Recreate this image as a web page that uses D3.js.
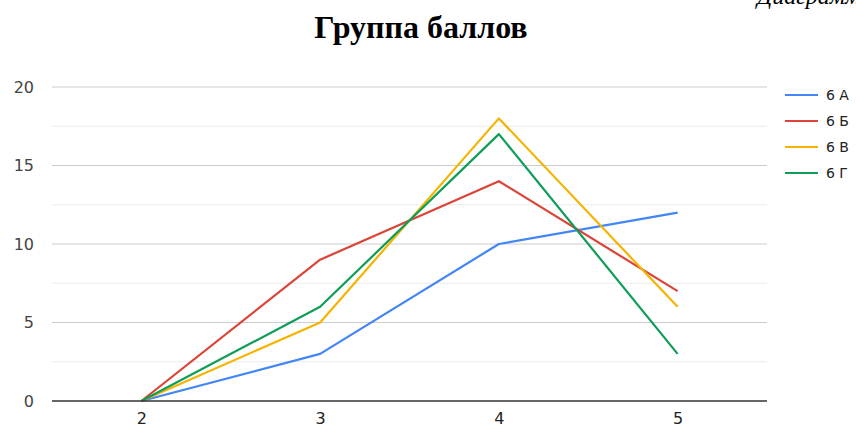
<!DOCTYPE html>
<html>
<head>
<meta charset="utf-8">
<script src="https://cdn.jsdelivr.net/npm/d3@7"></script>
<style>
  html, body { margin: 0; padding: 0; background: #fff; }
  svg { display: block; }
</style>
</head>
<body>
<svg id="chart" width="856" height="427"></svg>
<script>
// Score groups on the x axis, counts per class on the y axis
const categories = ["2", "3", "4", "5"];
const seriesNames = ["6 А", "6 Б", "6 В", "6 Г"];
const series6A = [0, 3, 10, 12];
const series6B = [0, 9, 14, 7];
const series6V = [0, 5, 18, 6];
const series6G = [0, 6, 17, 3];
const yTicks = [0, 5, 10, 15, 20];
const yMinor = [2.5, 7.5, 12.5, 17.5];
const colors = ["#4285F4", "#DB4437", "#F4B400", "#0F9D58"];

const seriesValues = [series6A, series6B, series6V, series6G];

const svg = d3.select("#chart");
const plotLeft = 52, plotRight = 767, plotTop = 87, plotBottom = 401;
const labelFont = "DejaVu Sans, Verdana, sans-serif";

const x = d3.scalePoint().domain(categories).range([plotLeft, plotRight]).padding(0.5);
const y = d3.scaleLinear().domain([0, 20]).range([plotBottom, plotTop]);

// Caption line above the chart, running off the top edge
svg.append("text")
  .attr("x", 757).attr("y", 4)
  .attr("font-family", "Liberation Serif, Times New Roman, serif")
  .attr("font-style", "italic")
  .attr("font-size", 24)
  .attr("fill", "#000")
  .text("Диаграмма 1");

// Title
svg.append("text")
  .attr("x", 421).attr("y", 38)
  .attr("text-anchor", "middle")
  .attr("font-family", "Liberation Serif, Times New Roman, serif")
  .attr("font-weight", "bold")
  .attr("font-size", 32)
  .attr("fill", "#000")
  .text("Группа баллов");

// Minor gridlines
svg.append("g").selectAll("line").data(yMinor).join("line")
  .attr("x1", plotLeft).attr("x2", plotRight)
  .attr("y1", d => y(d)).attr("y2", d => y(d))
  .attr("stroke", "#ebebeb").attr("stroke-width", 1);

// Major gridlines
svg.append("g").selectAll("line").data(yTicks.filter(d => d !== 0)).join("line")
  .attr("x1", plotLeft).attr("x2", plotRight)
  .attr("y1", d => y(d)).attr("y2", d => y(d))
  .attr("stroke", "#cccccc").attr("stroke-width", 1);

// Y axis labels
const yAxis = d3.axisLeft(y).tickValues(yTicks).tickSize(0).tickPadding(18);
const gy = svg.append("g").attr("transform", `translate(${plotLeft},0)`).call(yAxis);
gy.select(".domain").remove();
gy.selectAll("text")
  .attr("font-family", labelFont)
  .attr("font-size", 16)
  .attr("fill", "#444");

// X axis labels
const xAxis = d3.axisBottom(x).tickSize(0).tickPadding(12);
const gx = svg.append("g").attr("transform", `translate(0,${plotBottom})`).call(xAxis);
gx.select(".domain").remove();
gx.selectAll("text")
  .attr("font-family", labelFont)
  .attr("font-size", 16)
  .attr("fill", "#222");

// Lines
const line = d3.line().x((d, i) => x(categories[i])).y(d => y(d));
svg.append("g").selectAll("path").data(seriesValues).join("path")
  .attr("d", d => line(d))
  .attr("fill", "none")
  .attr("stroke", (d, i) => colors[i])
  .attr("stroke-width", 2.2)
  .attr("stroke-linejoin", "round");

// Baseline
svg.append("line")
  .attr("x1", plotLeft).attr("x2", plotRight)
  .attr("y1", y(0)).attr("y2", y(0))
  .attr("stroke", "#333").attr("stroke-width", 1.3);

// Legend
const legend = svg.append("g").selectAll("g").data(seriesNames).join("g")
  .attr("transform", (d, i) => `translate(785,${95 + i * 26})`);
legend.append("line")
  .attr("x1", 0).attr("x2", 33).attr("y1", 0).attr("y2", 0)
  .attr("stroke", (d, i) => colors[i]).attr("stroke-width", 2.2);
legend.append("text")
  .attr("x", 41).attr("y", 5)
  .attr("font-family", labelFont)
  .attr("font-size", 14)
  .attr("fill", "#222")
  .text(d => d);
</script>
</body>
</html>
